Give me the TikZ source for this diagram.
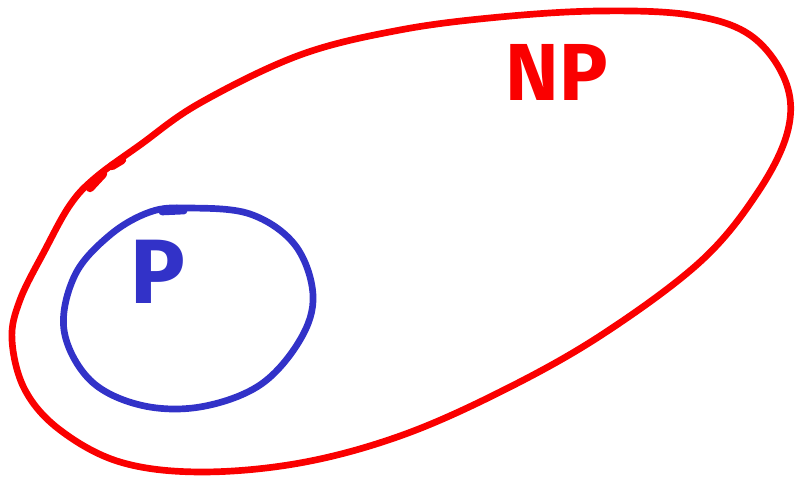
\documentclass[tikz,border=0pt]{standalone}
\usepackage{fontspec}
\setsansfont{Fira Sans}
\tikzset{every picture/.style={line width=1.4pt}}
\definecolor{npred}{RGB}{250,0,0}
\definecolor{pblue}{RGB}{50,50,200}

\begin{document}
\begin{tikzpicture}[x=0.01cm,y=-0.01cm]
  \useasboundingbox (0,0) rectangle (796,489);
  % --- NP : le grand ensemble ---
  \draw[npred, line width=1.9pt, line cap=round] plot[smooth cycle, tension=0.6] coordinates {
      (95,178) (140,145) (200,103) (300,55) (400,30) (500,17) (600,11)
      (690,15) (750,35) (785,80) (788,130) (758,192) (700,262)
      (600,336) (500,392) (400,436) (300,463) (200,472) (120,462)
      (60,430) (25,390) (12,340) (20,300) (45,250) (70,205)};
  \draw[npred, line width=2.4pt, line cap=round] (90,188) -- (103,174) (112,166) -- (122,160);
  \node[npred, font=\sffamily\bfseries\fontsize{23}{23}\selectfont] (np) at (557,72) {NP};

  % --- P : le petit ensemble ---
  \draw[pblue, line width=1.9pt] plot[smooth cycle, tension=0.6] coordinates {
      (188,208) (250,214) (295,245) (313,295) (300,340) (260,385)
      (200,407) (140,405) (90,380) (64,330) (75,275) (110,235) (150,212)};
  \draw[pblue, line width=1.9pt, line cap=round] (162,212) -- (184,211);
  \node[pblue, font=\sffamily\bfseries\fontsize{26}{26}\selectfont] (p) at (158,272) {P};
\end{tikzpicture}
\end{document}
